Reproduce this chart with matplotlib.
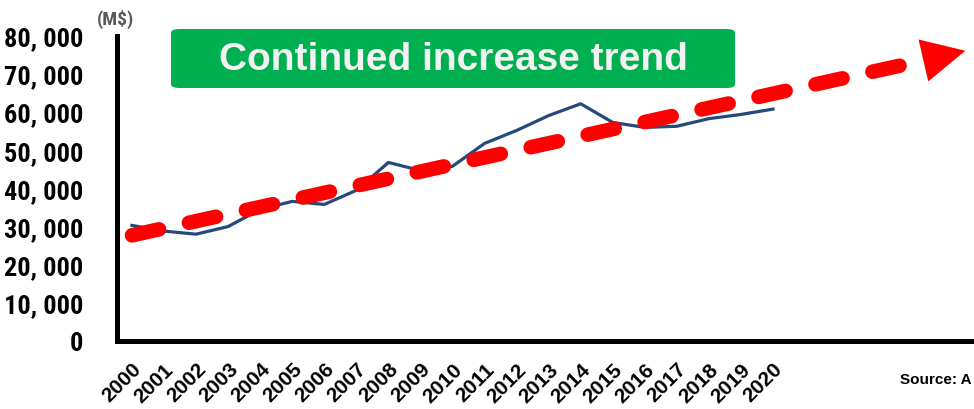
import matplotlib.pyplot as plt
from matplotlib import font_manager
from matplotlib.patches import FancyBboxPatch
from matplotlib.transforms import ScaledTranslation

years = list(range(2000, 2021))
values = [30300, 28800, 28000, 30000, 34500, 36600, 35800, 39500, 46800, 44700,
          45800, 51800, 55200, 59100, 62200, 57300, 56000, 56300, 58300, 59400, 60800]

# trend arrow: start, base of the head, tip
trend_x = [2000, 2024.66, 2026.0]
trend_y = [27700, 73500, 76100]

ytick_vals = [0, 10000, 20000, 30000, 40000, 50000, 60000, 70000, 80000]
ytick_labels = ['0' if v == 0 else f'{v // 1000}, 000' for v in ytick_vals]

# narrow face for the value axis if one is around
installed = {f.name for f in font_manager.fontManager.ttflist}
narrow = None
for name in ['Liberation Sans Narrow', 'Roboto Condensed', 'Open Sans Condensed', 'Arial Narrow']:
    if name in installed:
        narrow = name
        break
if narrow:
    yfont, ysize = [narrow, 'DejaVu Sans'], 19
else:
    yfont, ysize = ['Liberation Sans', 'DejaVu Sans'], 15.8

plt.rcParams['lines.scale_dashes'] = False

fig = plt.figure(figsize=(9.74, 4.10), dpi=100)
ax = fig.add_axes([0.120, 0.166, 0.880, 0.744])

ax.plot(years, values, color='#25497A', lw=2.3, zorder=2)

# dashed red trend line with a filled head
ax.plot(trend_x[:2], trend_y[:2], color='#FF0000', lw=10.5,
        dashes=(20, 22), dash_capstyle='round', zorder=3)
ax.annotate('', xy=(trend_x[2], trend_y[2]), xytext=(trend_x[1], trend_y[1]),
            arrowprops=dict(arrowstyle='-|>,head_length=31,head_width=15.5',
                            mutation_scale=1, color='#FF0000', lw=0,
                            shrinkA=0, shrinkB=0),
            annotation_clip=False, zorder=4)

ax.set_xlim(1999.53, 2026.27)
ax.set_ylim(0, 80000)
ax.set_xticks(years)
ax.set_xticklabels([str(y) for y in years], rotation=45, ha='right', va='top',
                   rotation_mode='anchor', fontsize=15, fontweight='bold',
                   family=['Liberation Sans', 'DejaVu Sans'])
shift = ScaledTranslation(-5 / 100, 0, fig.dpi_scale_trans)
for lab in ax.get_xticklabels():
    lab.set_transform(lab.get_transform() + shift)
ax.set_yticks(ytick_vals)
ax.set_yticklabels(ytick_labels, fontsize=ysize, fontweight='bold', family=yfont)
ax.tick_params(axis='x', length=0, pad=13)
ax.tick_params(axis='y', length=0, pad=24)

for side in ['top', 'right']:
    ax.spines[side].set_visible(False)
for side in ['left', 'bottom']:
    ax.spines[side].set_linewidth(3.6)
    ax.spines[side].set_color('black')

fig.text(0.099, 0.952, '(M$)', fontsize=14, fontweight='bold', color='#595959',
         family=yfont, ha='left', va='center')

box = FancyBboxPatch((171 / 974, 1 - 89 / 410), (735 - 171) / 974, (89 - 30) / 410,
                     boxstyle='round,pad=0,rounding_size=0.009',
                     transform=fig.transFigure, facecolor='#00B050',
                     edgecolor='none', zorder=5)
fig.patches.append(box)
fig.text((171 + 735) / 2 / 974, 1 - 60 / 410, 'Continued increase trend',
         fontsize=28, fontweight='bold', color='#F2F2F2', ha='center', va='center',
         family=['Liberation Sans', 'DejaVu Sans'], zorder=6)

fig.text(900 / 974, 1 - 380 / 410, 'Source: A', fontsize=11, fontweight='bold',
         family=['Liberation Sans', 'DejaVu Sans'], ha='left', va='center')

fig.savefig('out.png', dpi=100)
